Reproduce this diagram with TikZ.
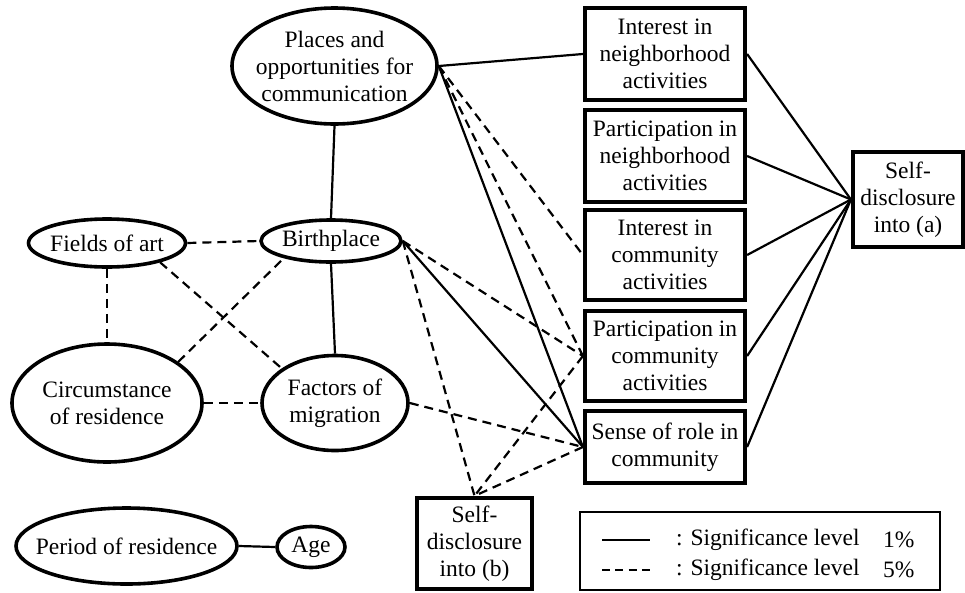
\documentclass[tikz,border=0pt]{standalone}
\usepackage{fontspec}
\setmainfont{Liberation Serif}
\usetikzlibrary{shapes.geometric}
\begin{document}
\begin{tikzpicture}[x=1pt,y=-1pt,
  every node/.style={font=\fontsize{23.5}{27}\selectfont, align=center, inner sep=0pt},
  ell/.style={ellipse, draw, line width=3.6pt, inner xsep=-30pt, inner ysep=-15pt},
  bx/.style={rectangle, draw, line width=4.2pt, minimum width=160pt},
  sol/.style={line width=2.2pt},
  dsh/.style={line width=2.2pt, dash pattern=on 9pt off 6pt},
]
\useasboundingbox (0,0) rectangle (965,592);

% ellipses
\node[ell, minimum width=205pt, minimum height=116pt] (pl) at (334.5,66) {Places and\\opportunities for\\communication};
\node[ell, minimum width=140pt, minimum height=42pt] (bp) at (331,241) {Birthplace};
\node[ell, minimum width=157pt, minimum height=48pt] (fa) at (107,243) {Fields of art};
\node[ell, minimum width=190pt, minimum height=118pt] (cr) at (107,403) {Circumstance\\of residence};
\node[ell, minimum width=146pt, minimum height=95pt] (fm) at (335,403) {Factors of\\migration};
\node[ell, minimum width=221pt, minimum height=76pt] (pr) at (126.5,546) {Period of residence};
\node[ell, minimum width=68pt, minimum height=41pt] (age) at (311,547) {Age};

% boxes
\node[bx, minimum height=92pt] (in) at (665,54) {Interest in\\neighborhood\\activities};
\node[bx, minimum height=92pt] (pn) at (665,156) {Participation in\\neighborhood\\activities};
\node[bx, minimum height=90pt] (ic) at (665,255) {Interest in\\community\\activities};
\node[bx, minimum height=90pt] (pc) at (665,356) {Participation in\\community\\activities};
\node[bx, minimum height=72pt] (sr) at (665,447) {Sense of role in\\community};
\node[bx, minimum width=110pt, minimum height=95pt] (sda) at (908,199.5) {Self-\\disclosure\\into (a)};
\node[bx, minimum width=115pt, minimum height=91pt] (sdb) at (474.5,543.5) {Self-\\disclosure\\into (b)};

% left network
\draw[sol] (pl.south) -- (bp.north);
\draw[sol] (bp.south) -- (fm.north);
\draw[dsh] (fa.east) -- (bp.west);
\draw[dsh] (fa.south) -- (cr.north);
\draw[dsh] (fa.-20) -- (fm.147);
\draw[dsh] (cr.30) -- (bp.-160);
\draw[dsh] (cr.east) -- (fm.west);
\draw[sol] (pr.east) -- (age.west);

% from Places
\draw[sol] (pl.east) -- (in.west);
\draw[dsh] (pl.east) -- (ic.west);
\draw[dsh] (pl.east) -- (pc.west);
\draw[sol] (pl.east) -- (sr.west);

% from Birthplace
\draw[dsh] (bp.east) -- (pc.west);
\draw[sol] (bp.east) -- (sr.west);
\draw[dsh] (bp.east) -- (sdb.north);

% others
\draw[dsh] (fm.east) -- (sr.west);
\draw[dsh] (pc.west) -- (sdb.north);
\draw[dsh] (sr.west) -- (sdb.north);

% to Self-disclosure (a)
\foreach \b in {in,pn,ic,pc,sr} \draw[sol] (\b.east) -- (sda.west);

% legend
\node[draw, line width=1.6pt, minimum width=360pt, minimum height=78pt] (leg) at (760,551) {};
\coordinate (l1a) at (602,540); \coordinate (l1b) at (650,540);
\coordinate (l2a) at (602,570); \coordinate (l2b) at (650,570);
\draw[sol] (l1a) -- (l1b);
\draw[line width=2.2pt, dash pattern=on 8pt off 5.3pt] (l2a) -- (l2b);
\node[anchor=west] (t1) at (676,540) {: Significance level};
\node[anchor=west] (t2) at (676,570) {: Significance level};
\node[anchor=west] (p1) at (883,540) {1\%};
\node[anchor=west] (p2) at (883,570) {5\%};
\end{tikzpicture}
\end{document}
